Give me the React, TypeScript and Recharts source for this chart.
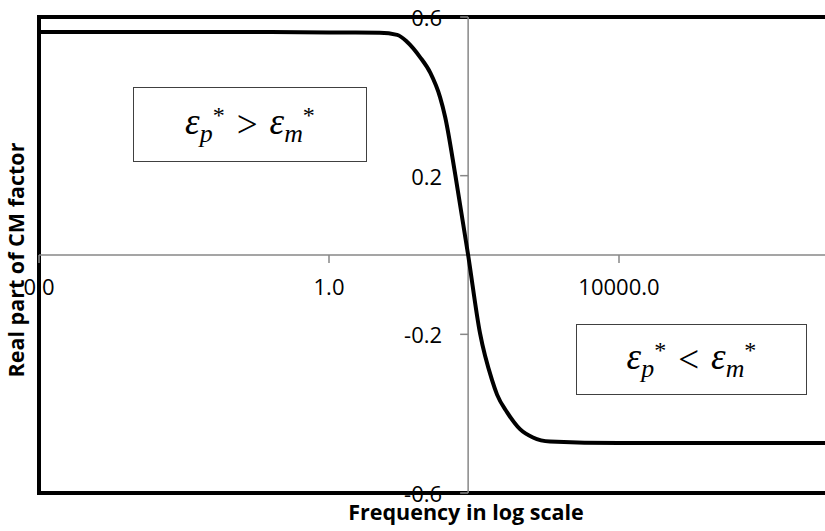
import React from "react";
import {
  LineChart,
  Line,
  XAxis,
  YAxis,
  ReferenceLine,
  ReferenceArea,
  ReferenceDot,
} from "recharts";

const FREQ = [
  0.0001, 0.001, 0.01, 0.1, 1, 5, 8.7, 12, 18, 25, 34, 40, 55, 83, 121, 177,
  208, 285, 431, 651, 1117, 10000, 1000000, 100000000,
];
const CM_REAL = [
  0.562, 0.562, 0.562, 0.562, 0.561, 0.56, 0.555, 0.537, 0.499, 0.459, 0.398,
  0.348, 0.204, 0, -0.197, -0.315, -0.352, -0.396, -0.439, -0.46, -0.47,
  -0.474, -0.474, -0.474,
];
const X_TICKS = [0.0001, 1, 10000, 100000000];
const Y_TICKS = [-0.6, -0.2, 0.2, 0.6];
const X_DOMAIN = [0.0001, 100000000];
const Y_DOMAIN = [-0.6, 0.6];
const Y_AXIS_CROSS = 83; // vertical axis sits where the curve crosses zero

const data = FREQ.map((f, i) => ({ f, k: CM_REAL[i] }));

const AXIS_GRAY = "#878787";
const TICK_FONT = "'Open Sans', sans-serif";

const XTick = (label: string) => (p: any) => (
  <g>
    <line x1={p.cx} y1={p.cy} x2={p.cx} y2={p.cy + 8} stroke={AXIS_GRAY} strokeWidth={1.5} />
    <text
      x={p.cx}
      y={p.cy + 31}
      textAnchor="middle"
      dominantBaseline="central"
      fontFamily={TICK_FONT}
      fontSize={22}
      fill="#000"
    >
      {label}
    </text>
  </g>
);

const YTick = (label: string) => (p: any) => (
  <g>
    <line x1={p.cx - 8} y1={p.cy} x2={p.cx} y2={p.cy} stroke={AXIS_GRAY} strokeWidth={1.5} />
    <text
      x={p.cx - 26}
      y={p.cy}
      textAnchor="end"
      dominantBaseline="central"
      fontFamily={TICK_FONT}
      fontSize={22}
      fill="#000"
    >
      {label}
    </text>
  </g>
);

const boxStyle: React.CSSProperties = {
  position: "absolute",
  border: "1.5px solid #404040",
  background: "#fff",
  display: "flex",
  alignItems: "center",
  justifyContent: "center",
  fontFamily: "'Liberation Serif', serif",
  fontStyle: "italic",
  fontSize: 37,
  color: "#000",
  boxSizing: "border-box",
  lineHeight: 1,
};

const sub: React.CSSProperties = { fontSize: "0.7em", verticalAlign: "-0.3em" };
const sup: React.CSSProperties = { fontSize: "0.65em", verticalAlign: "0.45em", fontStyle: "normal" };
const rel: React.CSSProperties = { fontStyle: "normal", margin: "0 12px" };

function Eps({ s }: { s: string }) {
  return (
    <span>
      ε<span style={sub}>{s}</span>
      <span style={sup}>*</span>
    </span>
  );
}

const titleStyle: React.CSSProperties = {
  position: "absolute",
  whiteSpace: "nowrap",
  fontFamily: TICK_FONT,
  fontWeight: 700,
  fontSize: 21.5,
  color: "#000",
  lineHeight: 1,
};

export default function App() {
  return (
    <div
      style={{
        position: "fixed",
        left: 0,
        top: 0,
        width: 825,
        height: 531,
        overflow: "hidden",
        background: "#fff",
      }}
    >
      <LineChart
        width={1000}
        height={531}
        data={data}
        margin={{ top: 17, left: 39, right: 91, bottom: 38 }}
      >
        <XAxis
          dataKey="f"
          type="number"
          scale="log"
          domain={X_DOMAIN}
          allowDataOverflow
          hide
        />
        <YAxis type="number" domain={Y_DOMAIN} allowDataOverflow hide />
        <ReferenceArea
          x1={X_DOMAIN[0]}
          x2={X_DOMAIN[1]}
          y1={Y_DOMAIN[0]}
          y2={Y_DOMAIN[1]}
          fill="none"
          fillOpacity={0}
          stroke="#000"
          strokeWidth={4}
          ifOverflow="visible"
        />
        <ReferenceLine y={0} stroke={AXIS_GRAY} strokeWidth={1.5} ifOverflow="visible" />
        <ReferenceLine x={Y_AXIS_CROSS} stroke={AXIS_GRAY} strokeWidth={1.5} ifOverflow="visible" />
        <Line
          dataKey="k"
          type="monotone"
          stroke="#000"
          strokeWidth={4}
          dot={false}
          isAnimationActive={false}
        />
        {X_TICKS.map((t) => (
          <ReferenceDot
            key={"x" + t}
            x={t}
            y={0}
            r={0}
            ifOverflow="visible"
            shape={XTick(t.toFixed(1))}
          />
        ))}
        {Y_TICKS.map((t) => (
          <ReferenceDot
            key={"y" + t}
            x={Y_AXIS_CROSS}
            y={t}
            r={0}
            ifOverflow="visible"
            shape={YTick(t.toFixed(1))}
          />
        ))}
      </LineChart>

      <div style={{ ...boxStyle, left: 133, top: 87, width: 234, height: 75 }}>
        <Eps s="p" />
        <span style={rel}>&gt;</span>
        <Eps s="m" />
      </div>
      <div style={{ ...boxStyle, left: 576, top: 324, width: 231, height: 71 }}>
        <Eps s="p" />
        <span style={rel}>&lt;</span>
        <Eps s="m" />
      </div>

      <div
        style={{
          ...titleStyle,
          left: 16,
          top: 260,
          transform: "translate(-50%, -50%) rotate(-90deg)",
        }}
      >
        Real part of CM factor
      </div>
      <div
        style={{
          ...titleStyle,
          left: 466,
          top: 512,
          transform: "translate(-50%, -50%)",
        }}
      >
        Frequency in log scale
      </div>
    </div>
  );
}
